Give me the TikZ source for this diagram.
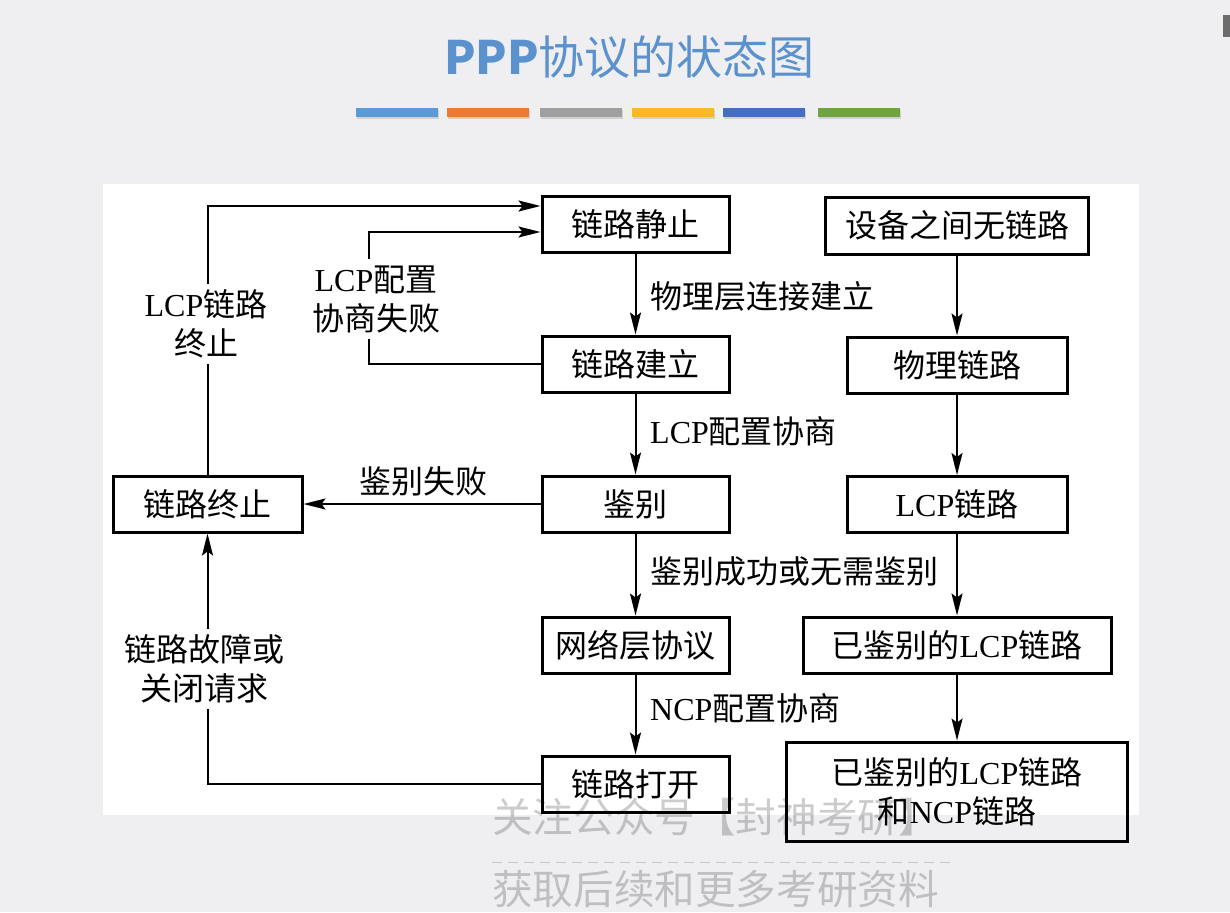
\documentclass[tikz,border=0pt]{standalone}
\usepackage{fontspec}
\setmainfont{Liberation Serif}
\newfontfamily\cjk{Noto Sans CJK SC}
\usetikzlibrary{arrows.meta}
\newcommand\latn[1]{{\rmfamily #1}}
\definecolor{slidebg}{RGB}{239,238,241}
\definecolor{titleblue}{RGB}{91,146,205}
\definecolor{barA}{RGB}{91,155,213}
\definecolor{barB}{RGB}{234,122,52}
\definecolor{barC}{RGB}{160,160,160}
\definecolor{barD}{RGB}{248,184,40}
\definecolor{barE}{RGB}{68,110,190}
\definecolor{barF}{RGB}{112,163,66}
\definecolor{cornergray}{RGB}{108,108,108}
\begin{document}
\begin{tikzpicture}[x=1pt,y=-1pt,
  box/.style={draw, line width=3pt, inner sep=0pt, minimum height=56pt,
    font=\cjk\fontsize{32}{39}\selectfont, align=center},
  conn/.style={line width=2pt},
  arr/.style={conn, -{Stealth[length=22pt,width=11pt,inset=4pt]}},
  lbl/.style={font=\cjk\fontsize{32}{39}\selectfont, anchor=west, inner sep=0pt},
  gaplbl/.style={fill=white, font=\cjk\fontsize{32}{39}\selectfont, align=center,
    inner xsep=2pt, inner ysep=6pt},
  wm/.style={font=\cjk\fontsize{40.6}{44}\selectfont, text=black, text opacity=0.2,
    inner sep=0pt, anchor=west}
]
\useasboundingbox (0,0) rectangle (1230,912);
\fill[slidebg] (0,0) rectangle (1230,912);
\fill[cornergray] (1223,15) rectangle (1230,37);
% title
\node[text=titleblue, font=\cjk\fontsize{46}{50}\selectfont] (title) at (629.5,57)
  {{\bfseries PPP}协议的状态图};
% colour bars
\foreach \xa/\col in {356/barA,447/barB,540/barC,632/barD,723/barE,818/barF}{
  \fill[black, opacity=0.12] (\xa+1,110) rectangle (\xa+83,119);
  \fill[\col] (\xa,108) rectangle (\xa+82,117);
}
% white panel
\fill[white] (103,184) rectangle (1139,815);

% boxes
\node[box, minimum width=187pt] (jz) at (635.5,224) {链路静止};
\node[box, minimum width=263pt, minimum height=57pt] (sb) at (957,225.5) {设备之间无链路};
\node[box, minimum width=187pt] (jl) at (635.5,364) {链路建立};
\node[box, minimum width=220pt] (wl) at (957,365) {物理链路};
\node[box, minimum width=187pt] (jb) at (635.5,504) {鉴别};
\node[box, minimum width=220pt] (lcp) at (957,504.5) {\latn{LCP}链路};
\node[box, minimum width=189pt] (zz) at (207.5,504) {链路终止};
\node[box, minimum width=187pt] (wc) at (635.5,645) {网络层协议};
\node[box, minimum width=308pt] (yj) at (957,645) {已鉴别的\latn{LCP}链路};
\node[box, minimum width=187pt] (dk) at (635.5,784) {链路打开};
\node[box, minimum width=341pt, minimum height=99pt] (big) at (957,791.5)
  {已鉴别的\latn{LCP}链路\\和\latn{NCP}链路};

% main column
\draw[arr] (jz) -- (jl);
\draw[arr] (jl) -- (jb);
\draw[arr] (jb) -- (wc);
\draw[arr] (wc) -- (dk);
% right column
\draw[arr] (sb) -- (wl);
\draw[arr] (wl) -- (lcp);
\draw[arr] (lcp) -- (yj);
\draw[arr] (yj) -- (big);
% failure paths
\draw[arr] (jb.west) -- (zz.east);
\draw[arr] (dk.west) -| (zz.south);
\draw[arr] (zz.north) |- ([yshift=18pt]jz.west);
\coordinate (cfail) at (369,364);
\draw[arr] (jl.west) -- (cfail) |- ([yshift=-8pt]jz.west);

% labels on the main column
\node[lbl] (t1) at (650,296) {物理层连接建立};
\node[lbl] (t2) at (650,431) {\latn{LCP}配置协商};
\node[lbl] (t3) at (650,571) {鉴别成功或无需鉴别};
\node[lbl] (t4) at (650,708) {\latn{NCP}配置协商};
\node[lbl, anchor=center] (t5) at (423,481) {鉴别失败};
% labels breaking the lines
\node[gaplbl] (g1) at (206,324) {\latn{LCP}链路\\终止};
\node[gaplbl] (g2) at (376,299) {\latn{LCP}配置\\协商失败};
\node[gaplbl] (g3) at (204,669) {链路故障或\\关闭请求};

% watermark
\node[wm] (w1) at (492,817) {关注公众号【封神考研】};
\coordinate (dl) at (492,862);
\coordinate (dr) at (950,862);
\draw[black!22, line width=1pt, dash pattern=on 10pt off 6pt] (dl) -- (dr);
\node[wm] (w2) at (492,889) {获取后续和更多考研资料};
\end{tikzpicture}
\end{document}
